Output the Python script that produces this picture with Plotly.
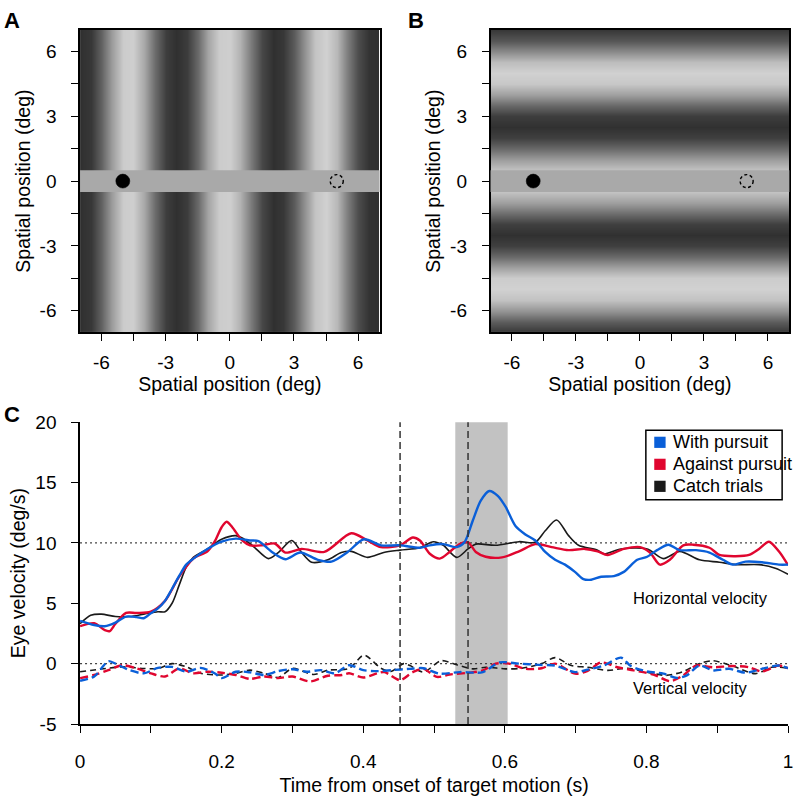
import plotly.graph_objects as go

# ---------------- Data ----------------
# Grating luminance profiles (0 = black, 1 = white), sampled every 0.5 deg
grating_pos = [-7.0, -6.5, -6.0, -5.5, -5.0, -4.5, -4.0, -3.5, -3.0, -2.5, -2.0, -1.5, -1.0, -0.5,
               0.0, 0.5, 1.0, 1.5, 2.0, 2.5, 3.0, 3.5, 4.0, 4.5, 5.0, 5.5, 6.0, 6.5, 7.0]
lum_A = [0.19, 0.22, 0.38, 0.62, 0.80, 0.81, 0.66, 0.42, 0.24, 0.19, 0.24, 0.42, 0.65, 0.80,
         0.81, 0.70, 0.48, 0.28, 0.19, 0.22, 0.36, 0.58, 0.77, 0.82, 0.72, 0.50, 0.30, 0.20, 0.19]
lum_B = [0.22, 0.36, 0.58, 0.76, 0.82, 0.80, 0.64, 0.42, 0.25, 0.19, 0.25, 0.42, 0.62, 0.76,
         0.80, 0.76, 0.62, 0.42, 0.25, 0.19, 0.24, 0.40, 0.62, 0.78, 0.82, 0.74, 0.55, 0.34, 0.22]

band_y = [-0.5, 0.5]          # grey gap in the grating
target_start = [-5, 0]
target_end = [5, 0]
spatial_ticks = [-6, -3, 0, 3, 6]
spatial_ticklabels = ["-6", "-3", "0", "3", "6"]

# Panel C: eye velocity traces
t_with_h = [0, 0.02, 0.035, 0.05, 0.065, 0.08, 0.09, 0.1, 0.11, 0.12, 0.13, 0.14, 0.15, 0.16, 0.18, 0.2,
            0.22, 0.24, 0.252, 0.271, 0.29, 0.311, 0.336, 0.355, 0.378, 0.401, 0.425, 0.452, 0.48, 0.494,
            0.513, 0.532, 0.543, 0.555, 0.566, 0.578, 0.59, 0.601, 0.615, 0.629, 0.643, 0.657, 0.671,
            0.685, 0.699, 0.711, 0.722, 0.736, 0.754, 0.768, 0.787, 0.801, 0.815, 0.831, 0.847, 0.87,
            0.889, 0.908, 0.922, 0.94, 0.963, 0.987, 1.0]
with_h = [3.55, 3.2, 3.1, 3.4, 3.9, 3.85, 3.76, 4.17, 4.57, 5.2, 6.2, 7.26, 8.2, 8.7, 9.5, 10.1,
          10.35, 10.2, 10.15, 9.25, 8.65, 9.2, 8.6, 8.45, 9.25, 10.3, 9.8, 9.8, 9.6, 9.8,
          9.9, 9.65, 10.05, 11.9, 13.5, 14.3, 13.9, 13.0, 11.4, 10.7, 10.2, 9.25, 8.6,
          8.2, 7.6, 7.0, 6.95, 7.2, 7.25, 7.6, 8.6, 8.85, 9.4, 9.85, 9.4, 9.4,
          9.2, 8.6, 8.2, 8.45, 8.4, 8.2, 8.2]

t_against_h = [0, 0.02, 0.035, 0.042, 0.05, 0.065, 0.08, 0.1, 0.12, 0.14, 0.16, 0.18, 0.19, 0.2, 0.207,
               0.215, 0.229, 0.24, 0.257, 0.275, 0.29, 0.313, 0.345, 0.383, 0.406, 0.425, 0.452, 0.47,
               0.48, 0.494, 0.508, 0.522, 0.536, 0.548, 0.559, 0.573, 0.596, 0.62, 0.643, 0.666, 0.69,
               0.713, 0.731, 0.745, 0.768, 0.791, 0.805, 0.819, 0.833, 0.852, 0.866, 0.889, 0.903,
               0.926, 0.945, 0.959, 0.973, 0.987, 1.0]
against_h = [3.1, 3.35, 2.77, 2.7, 3.3, 4.2, 4.2, 4.3, 5.2, 7.2, 8.7, 9.3, 10.1, 11.3, 11.75,
             11.3, 10.2, 9.8, 9.8, 9.95, 9.2, 9.5, 9.25, 10.8, 10.2, 9.65, 9.8, 10.45,
             10.2, 9.1, 8.7, 9.25, 9.9, 10.05, 9.25, 8.85, 8.8, 9.3, 9.9, 9.65, 9.4,
             9.5, 9.3, 9.0, 9.5, 9.65, 9.2, 8.2, 8.6, 9.8, 9.85, 9.6, 9.0,
             8.9, 9.0, 9.5, 10.1, 9.3, 8.15]

t_catch_h = [0, 0.015, 0.03, 0.05, 0.07, 0.09, 0.11, 0.12, 0.13, 0.14, 0.15, 0.16, 0.18, 0.2, 0.22, 0.229,
             0.245, 0.266, 0.28, 0.299, 0.313, 0.327, 0.35, 0.369, 0.383, 0.406, 0.429, 0.452, 0.48,
             0.499, 0.513, 0.532, 0.548, 0.559, 0.587, 0.62, 0.643, 0.657, 0.673, 0.69, 0.704, 0.731,
             0.74, 0.764, 0.801, 0.824, 0.847, 0.875, 0.903, 0.926, 0.959, 0.982, 1.0]
catch_h = [3.3, 4.0, 4.1, 3.9, 3.9, 4.1, 4.3, 4.3, 5.0, 6.5, 8.0, 8.8, 9.5, 10.3, 10.6, 10.4,
           9.7, 8.7, 9.2, 10.2, 9.2, 8.4, 8.6, 9.2, 9.3, 8.8, 9.2, 9.4, 9.6,
           10.1, 9.8, 8.8, 9.5, 9.9, 9.8, 10.1, 10.05, 11.0, 11.9, 10.6, 9.8, 9.4,
           9.1, 9.5, 9.5, 8.7, 9.3, 8.6, 8.4, 8.2, 8.2, 7.9, 7.4]

t_with_v = [0, 0.02, 0.03, 0.04, 0.05, 0.07, 0.09, 0.11, 0.13, 0.15, 0.17, 0.19, 0.2, 0.22, 0.24, 0.26,
            0.28, 0.3, 0.32, 0.34, 0.36, 0.38, 0.4, 0.42, 0.44, 0.466, 0.485, 0.508, 0.536, 0.569, 0.592,
            0.62, 0.648, 0.671, 0.699, 0.717, 0.74, 0.764, 0.778, 0.801, 0.824, 0.843, 0.857, 0.875,
            0.894, 0.917, 0.94, 0.963, 0.987, 1.0]
with_v = [-1.42, -1.07, -0.4, 0.2, 0.0, -0.54, -0.8, -0.35, -0.27, -0.67, -0.35, -0.8, -1.2, -0.67, -0.72, -0.94,
          -0.62, -0.46, -0.67, -0.54, -0.8, -0.13, -0.54, -0.62, -0.54, -0.43, -0.38, -0.83, -0.7, -0.7, 0.1,
          0.0, -0.1, -0.16, -0.7, -0.5, -0.16, 0.5, -0.2, -0.65, -0.83, -1.18, -0.97, -0.16,
          -0.56, -0.43, -0.75, -0.43, -0.16, -0.38]

t_against_v = [0, 0.02, 0.04, 0.06, 0.08, 0.1, 0.12, 0.14, 0.16, 0.18, 0.2, 0.22, 0.24, 0.26, 0.28, 0.3,
               0.325, 0.35, 0.37, 0.38, 0.4, 0.42, 0.43, 0.452, 0.47, 0.485, 0.504, 0.522, 0.55, 0.569,
               0.587, 0.606, 0.629, 0.652, 0.671, 0.699, 0.717, 0.736, 0.759, 0.782, 0.81, 0.833, 0.852,
               0.87, 0.894, 0.922, 0.945, 0.963, 0.987, 1.0]
against_v = [-1.2, -0.94, -0.54, -0.13, -0.4, -0.8, -1.07, -0.4, -0.8, -0.67, -0.75, -0.94, -1.26, -1.07, -1.2, -1.07,
             -1.48, -1.0, -0.94, -0.8, -1.15, -0.8, -0.7, -1.37, -0.7, -0.43, -1.1, -0.9, -0.75, -0.56,
             0.0, 0.0, -0.43, -0.38, 0.0, -0.83, -0.6, 0.1, -0.3, -0.56, -0.9, -1.45, -0.97,
             -0.16, -0.3, -0.2, -0.3, -0.65, -0.16, -0.38]

t_catch_v = [0, 0.03, 0.06, 0.09, 0.11, 0.13, 0.15, 0.17, 0.2, 0.22, 0.24, 0.26, 0.28, 0.3, 0.33, 0.35,
             0.38, 0.401, 0.425, 0.439, 0.457, 0.466, 0.485, 0.51, 0.532, 0.555, 0.573, 0.601, 0.624,
             0.652, 0.671, 0.694, 0.717, 0.745, 0.773, 0.801, 0.828, 0.852, 0.875, 0.894, 0.922, 0.954,
             0.977, 1.0]
catch_v = [-0.67, -0.45, -0.27, -0.4, -0.4, 0.0, -0.27, -0.8, -0.94, -0.8, -0.54, -0.8, -1.15, -0.4, -0.9, -0.54,
           -0.4, 0.7, -0.38, -0.65, 0.0, -0.16, -0.7, 0.24, -0.1, -0.43, -0.3, -0.43, -0.38,
           0.0, 0.5, -0.16, -0.3, -0.56, -0.38, -0.7, -0.97, -0.65, 0.0, 0.24, -0.2, -0.83,
           -0.3, -0.38]

time_ticks = [0, 0.2, 0.4, 0.6, 0.8, 1]
time_ticklabels = ["0", "0.2", "0.4", "0.6", "0.8", "1"]
vel_ticks = [-5, 0, 5, 10, 15, 20]
vel_ticklabels = ["-5", "0", "5", "10", "15", "20"]

event_times = [0.452, 0.548]
perturb_window = [0.530, 0.604]
target_speed = 10
legend_names = ["With pursuit", "Against pursuit", "Catch trials"]

# ---------------- Styling ----------------
W, H = 797, 798
BLUE, RED, BLACK = "#0a5fd8", "#e0062f", "#1a1a1a"
FONT = "Liberation Sans, Arial, sans-serif"

def px_x(a, b):
    return [a / W, b / W]

def px_y(top, bottom):
    return [1 - bottom / H, 1 - top / H]

fig = go.Figure()
GRAY = [[0, "black"], [1, "white"]]

# Panel A: vertical grating (varies with x)
zA = [lum_A for _ in grating_pos]
fig.add_trace(go.Heatmap(x=grating_pos, y=grating_pos, z=zA, colorscale=GRAY,
                         zmin=0, zmax=1, showscale=False, zsmooth="best", xaxis="x", yaxis="y",
                         hoverinfo="skip"))
# Panel B: horizontal grating (varies with y)
zB = [[v] * len(grating_pos) for v in lum_B]
fig.add_trace(go.Heatmap(x=grating_pos, y=grating_pos, z=zB, colorscale=GRAY,
                         zmin=0, zmax=1, showscale=False, zsmooth="best", xaxis="x2", yaxis="y2",
                         hoverinfo="skip"))

shapes = []
for xa, ya in [("x", "y"), ("x2", "y2")]:
    shapes.append(dict(type="rect", xref=xa + " domain", yref=ya, x0=0, x1=1, y0=band_y[0], y1=band_y[1],
                       fillcolor="#a9a9a9", line=dict(width=0), layer="above"))
    shapes.append(dict(type="circle", xref=xa, yref=ya, xsizemode="pixel", ysizemode="pixel",
                       xanchor=target_start[0], yanchor=target_start[1], x0=-7, x1=7, y0=-7, y1=7,
                       line=dict(color="black", width=0.5), fillcolor="black", layer="above"))
    shapes.append(dict(type="circle", xref=xa, yref=ya, xsizemode="pixel", ysizemode="pixel",
                       xanchor=target_end[0], yanchor=target_end[1], x0=-6.5, x1=6.5, y0=-6.5, y1=6.5,
                       line=dict(color="black", width=1.4, dash="3px,2.5px"), fillcolor="rgba(0,0,0,0)",
                       layer="above"))

# Panel C background elements
shapes.append(dict(type="rect", xref="x3", yref="y3 domain", x0=perturb_window[0], x1=perturb_window[1],
                   y0=0, y1=1, fillcolor="#c2c2c2", line=dict(width=0), layer="below"))
for et in event_times:
    shapes.append(dict(type="line", xref="x3", yref="y3 domain", x0=et, x1=et, y0=0, y1=1,
                       line=dict(color="#333333", width=1.5, dash="7px,4px"), layer="above"))
for yv in [target_speed, 0]:
    shapes.append(dict(type="line", xref="x3 domain", yref="y3", x0=0, x1=1, y0=yv, y1=yv,
                       line=dict(color="#444444", width=1.4, dash="2px,3px"), layer="below"))

series = [
    (t_catch_v, catch_v, BLACK, 1.6, "6px,4px"),
    (t_against_v, against_v, RED, 2.4, "8px,4px"),
    (t_with_v, with_v, BLUE, 2.4, "8px,4px"),
    (t_catch_h, catch_h, BLACK, 1.6, "solid"),
    (t_against_h, against_h, RED, 2.4, "solid"),
    (t_with_h, with_h, BLUE, 2.4, "solid"),
]
for tt, vv, col, wd, dash in series:
    fig.add_trace(go.Scatter(x=tt, y=vv, mode="lines", line=dict(color=col, width=wd, dash=dash,
                             shape="spline", smoothing=0.8), xaxis="x3", yaxis="y3",
                             showlegend=False, hoverinfo="skip"))

# Legend (box, colour keys, labels)
annotations = []
shapes.append(dict(type="rect", xref="paper", yref="paper", x0=649 / W, x1=787 / W,
                   y0=1 - 503 / H, y1=1 - 431.7 / H, line=dict(color="black", width=1.5),
                   fillcolor="white", layer="above"))
for i, (name, col) in enumerate(zip(legend_names, [BLUE, RED, BLACK])):
    cy = 444 + i * 22.6
    shapes.append(dict(type="rect", xref="paper", yref="paper", x0=657.5 / W, x1=669 / W,
                       y0=1 - (cy + 5.75) / H, y1=1 - (cy - 5.75) / H, line=dict(width=0),
                       fillcolor=col, layer="above"))
    annotations.append(dict(text=name, x=674 / W, y=1 - cy / H, xref="paper", yref="paper",
                            showarrow=False, xanchor="left", yanchor="middle",
                            font=dict(family=FONT, size=18, color="black")))

tickfont = dict(family=FONT, size=19, color="black")
titlefont = dict(family=FONT, size=19.5, color="black")

def spatial_axis(domain, standoff, lblpad):
    return dict(domain=domain, range=[-7, 7], tickmode="array", tickvals=spatial_ticks,
                ticktext=spatial_ticklabels,
                ticks="outside", ticklen=7, tickwidth=1.3, tickcolor="black", ticklabelstandoff=lblpad,
                minor=dict(tickvals=[-4.5, -1.5, 1.5, 4.5], ticks="outside", ticklen=7,
                           tickwidth=1.3, tickcolor="black"),
                showline=True, linecolor="black", linewidth=1.5, mirror=True,
                showgrid=False, zeroline=False, tickfont=tickfont,
                title=dict(text="Spatial position (deg)", font=titlefont, standoff=standoff))

annotations += [
    dict(text="<b>A</b>", x=-3 / W, y=1 - 11 / H, xref="paper", yref="paper", showarrow=False,
         xanchor="left", yanchor="middle", font=dict(family=FONT, size=22)),
    dict(text="<b>B</b>", x=406 / W, y=1 - 11 / H, xref="paper", yref="paper", showarrow=False,
         xanchor="left", yanchor="middle", font=dict(family=FONT, size=22)),
    dict(text="<b>C</b>", x=-3 / W, y=1 - 415 / H, xref="paper", yref="paper", showarrow=False,
         xanchor="left", yanchor="middle", font=dict(family=FONT, size=22)),
    dict(text="Horizontal velocity", x=0.876, y=5.43, xref="x3", yref="y3", showarrow=False,
         font=dict(family=FONT, size=16.5)),
    dict(text="Vertical velocity", x=0.862, y=-2.05, xref="x3", yref="y3", showarrow=False,
         font=dict(family=FONT, size=16.5)),
]

fig.update_layout(
    width=W, height=H, margin=dict(l=0, r=0, t=0, b=0),
    paper_bgcolor="white", plot_bgcolor="white", showlegend=False,
    font=dict(family=FONT, size=16, color="black"),
    xaxis=dict(spatial_axis(px_x(76, 379.3), 5, 5), anchor="y"),
    yaxis=dict(spatial_axis(px_y(20.5, 331), 4, 11), anchor="x"),
    xaxis2=dict(spatial_axis(px_x(491.7, 794.3), 5, 5), anchor="y2"),
    yaxis2=dict(spatial_axis(px_y(20.5, 331), 4, 11), anchor="x2"),
    xaxis3=dict(domain=px_x(76, 793), anchor="y3", range=[0, 1], tickmode="array",
                tickvals=time_ticks, ticktext=time_ticklabels, ticklabeloverflow="allow",
                ticks="outside", ticklen=7, tickwidth=1.3, tickcolor="black", ticklabelstandoff=12,
                minor=dict(tickvals=[0.1, 0.3, 0.5, 0.7, 0.9], ticks="outside", ticklen=7,
                           tickwidth=1.3, tickcolor="black"),
                showline=True, linecolor="black", linewidth=1.5, showgrid=False, zeroline=False,
                tickfont=tickfont,
                title=dict(text="Time from onset of target motion (s)", font=titlefont, standoff=8)),
    yaxis3=dict(domain=px_y(423.3, 733.3), anchor="x3", range=[-5, 20], tickmode="array",
                tickvals=vel_ticks, ticktext=vel_ticklabels, ticks="outside", ticklen=7, tickwidth=1.3,
                tickcolor="black", ticklabelstandoff=11, showline=True, linecolor="black",
                linewidth=1.5, showgrid=False, zeroline=False, tickfont=tickfont,
                title=dict(text="Eye velocity (deg/s)", font=titlefont, standoff=5)),
    shapes=shapes,
    annotations=annotations,
)

fig.write_html("out.html")
